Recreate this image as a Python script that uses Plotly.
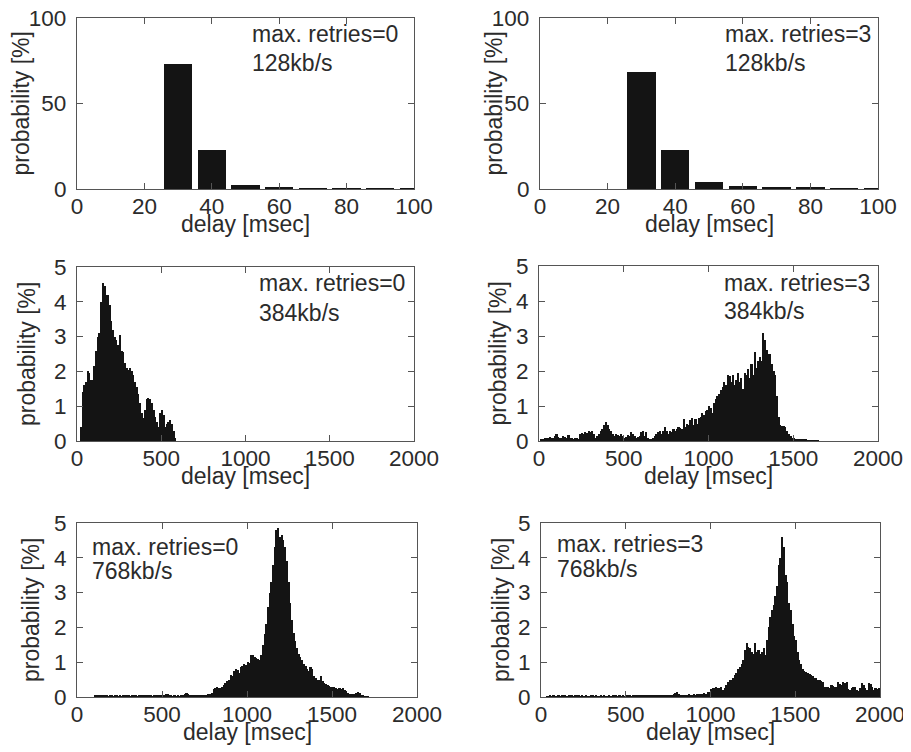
import plotly.graph_objects as go

W, H = 911, 752
OFF = 8  # the page body margin moves the figure 8px right and down

# ---- data (probability in %) ----
# 128 kb/s: bars every 10 msec
bar_delay_128 = [30, 40, 50, 60, 70, 80, 90, 100]
prob_128_r0 = [73.2, 22.8, 2.3, 1.3, 0.4, 0.3, 0.3, 0.2]
prob_128_r3 = [68.4, 23.0, 4.2, 1.9, 1.0, 0.6, 0.5, 0.3]

# 384 / 768 kb/s: 10 msec bins, first bin starts at 0 msec
BIN = 10
prob_384_r0 = [0, 0, 0.4, 1.4, 1.6, 1.7, 2.0, 1.95, 1.75, 1.75,
               2.15, 2.6, 3.0, 3.1, 4.0, 4.55, 4.45, 4.2, 4.2, 3.9,
               3.45, 3.2, 3.0, 2.9, 2.75, 3.05, 2.6, 2.55, 2.25, 2.1,
               2.05, 2.1, 2.0, 1.9, 1.7, 1.55, 1.35, 1.1, 0.8, 0.65,
               0.9, 1.2, 1.25, 1.2, 1.1, 0.9, 0.7, 0.55, 0.4, 0.8,
               0.9, 0.75, 0.4, 0.5, 0.55, 0.6, 0.5, 0.3, 0.1]

prob_384_r3 = [0, 0.03, 0.05, 0.08, 0.1, 0.08, 0.12, 0.1, 0.08, 0.15,
               0.2, 0.12, 0.1, 0.08, 0.15, 0.12, 0.1, 0.18, 0.1, 0.08,
               0.06, 0.1, 0.08, 0.05, 0.2, 0.22, 0.2, 0.25, 0.22, 0.3,
               0.25, 0.3, 0.2, 0.1, 0.15, 0.2, 0.3, 0.35, 0.45, 0.55,
               0.45, 0.35, 0.3, 0.2, 0.15, 0.2, 0.18, 0.15, 0.2, 0.15,
               0.1, 0.12, 0.18, 0.15, 0.25, 0.2, 0.15, 0.1, 0.12, 0.15,
               0.25, 0.3, 0.15, 0.25, 0.1, 0.05, 0.06, 0.1, 0.15, 0.2,
               0.25, 0.3, 0.2, 0.3, 0.4, 0.3, 0.2, 0.3, 0.25, 0.35,
               0.3, 0.35, 0.4, 0.38, 0.35, 0.62, 0.4, 0.5, 0.45, 0.6,
               0.65, 0.45, 0.62, 0.5, 0.65, 0.7, 0.8, 0.75, 0.85, 0.9,
               1.0, 0.95, 0.8, 1.1, 1.2, 1.3, 1.35, 1.45, 1.55, 1.7,
               1.6, 1.9, 1.85, 1.7, 1.9, 1.6, 1.75, 1.95, 1.7, 1.8,
               1.5, 1.95, 1.9, 2.05, 1.8, 2.2, 1.9, 2.55, 2.1, 2.3,
               2.4, 2.3, 3.1, 2.9, 2.6, 2.5, 2.5, 2.2, 2.0, 1.9,
               1.3, 0.7, 0.45, 0.42, 0.42, 0.4, 0.3, 0.2, 0.15, 0.1,
               0.08, 0.05, 0.05, 0.04, 0.03, 0.03, 0.03, 0.03, 0.02, 0.02,
               0.02, 0.02, 0.02, 0.02, 0.02]

prob_768_r0 = [0, 0, 0, 0, 0, 0, 0, 0, 0, 0,
               0.03, 0.05, 0.04, 0.06, 0.05, 0.04, 0.05, 0.03, 0.02, 0.03,
               0.03, 0.02, 0.03, 0.04, 0.02, 0.03, 0.02, 0.03, 0.05, 0.04,
               0.03, 0.02, 0.03, 0.04, 0.03, 0.02, 0.03, 0.04, 0.05, 0.03,
               0.04, 0.05, 0.03, 0.04, 0.02, 0.03, 0.04, 0.05, 0.03, 0.04,
               0.06, 0.05, 0.08, 0.1, 0.05, 0.03, 0.02, 0.03, 0.02, 0.03,
               0.02, 0.03, 0.05, 0.08, 0.12, 0.1, 0.06, 0.05, 0.03, 0.04,
               0.03, 0.05, 0.04, 0.03, 0.04, 0.05, 0.06, 0.08, 0.1, 0.12,
               0.22, 0.27, 0.3, 0.26, 0.25, 0.3, 0.35, 0.4, 0.45, 0.5,
               0.62, 0.6, 0.75, 0.8, 0.78, 0.7, 0.85, 0.9, 0.95, 0.92,
               1.0, 0.98, 1.2, 1.22, 1.15, 1.12, 1.1, 1.05, 1.2, 1.5,
               1.8, 2.1, 2.6, 3.0, 3.3, 3.8, 4.3, 4.8, 4.85, 4.6,
               4.65, 4.5, 4.3, 3.9, 3.3, 2.7, 2.2, 1.85, 1.6, 1.4,
               1.25, 1.15, 1.05, 0.95, 0.9, 0.8, 0.75, 0.85, 0.8, 0.6,
               0.55, 0.5, 0.48, 0.6, 0.45, 0.4, 0.38, 0.35, 0.32, 0.3,
               0.28, 0.3, 0.25, 0.22, 0.26, 0.24, 0.25, 0.2, 0.18, 0.12,
               0.1, 0.08, 0.08, 0.1, 0.12, 0.15, 0.12, 0.05, 0.04, 0.02,
               0.02, 0.02]

prob_768_r3 = [0, 0, 0, 0.02, 0.02, 0.03, 0.02, 0.03, 0.02, 0.02,
               0.03, 0.02, 0.03, 0.04, 0.03, 0.02, 0.03, 0.04, 0.03, 0.02,
               0.03, 0.04, 0.03, 0.02, 0.03, 0.02, 0.03, 0.02, 0.02, 0.03,
               0.04, 0.02, 0.03, 0.02, 0.02, 0.03, 0.02, 0.03, 0.02, 0.02,
               0.03, 0.02, 0.03, 0.04, 0.03, 0.02, 0.03, 0.02, 0.03, 0.02,
               0.03, 0.04, 0.03, 0.02, 0.03, 0.04, 0.03, 0.05, 0.04, 0.03,
               0.04, 0.05, 0.04, 0.06, 0.05, 0.04, 0.06, 0.05, 0.04, 0.05,
               0.04, 0.03, 0.05, 0.06, 0.05, 0.04, 0.06, 0.05, 0.08, 0.12,
               0.15, 0.1, 0.06, 0.05, 0.06, 0.05, 0.07, 0.08, 0.06, 0.07,
               0.08, 0.06, 0.08, 0.1, 0.09, 0.1, 0.12, 0.1, 0.14, 0.15,
               0.22, 0.25, 0.27, 0.28, 0.27, 0.25, 0.28, 0.2, 0.25, 0.35,
               0.42, 0.48, 0.5, 0.55, 0.62, 0.7, 0.8, 0.85, 0.95, 1.05,
               1.35, 1.55, 1.45, 1.4, 1.3, 1.25, 1.55, 1.3, 1.35, 1.25,
               1.28, 1.4, 1.2, 1.65, 2.0, 2.3, 2.5, 2.65, 2.9, 3.2,
               3.8, 4.0, 4.6, 4.3, 3.5, 3.3, 2.7, 2.5, 2.1, 1.75,
               1.65, 1.3, 1.05, 0.95, 0.8, 0.75, 0.72, 0.68, 0.65, 0.62,
               0.6, 0.55, 0.55, 0.5, 0.48, 0.45, 0.42, 0.3, 0.28, 0.3,
               0.25, 0.35, 0.33, 0.3, 0.28, 0.42, 0.38, 0.35, 0.42, 0.4,
               0.42, 0.22, 0.2, 0.25, 0.28, 0.3, 0.2, 0.18, 0.25, 0.4,
               0.35, 0.25, 0.2, 0.4, 0.38, 0.3, 0.2, 0.25, 0.22, 0.25]

labels = [("max. retries=0", "128kb/s"), ("max. retries=3", "128kb/s"),
          ("max. retries=0", "384kb/s"), ("max. retries=3", "384kb/s"),
          ("max. retries=0", "768kb/s"), ("max. retries=3", "768kb/s")]

# ---- layout geometry (screen pixels of the 911x752 window) ----
boxes = [(77, 414, 18, 189), (540, 878, 18, 189),
         (77, 414, 267, 441), (539, 878, 266, 441),
         (77, 417, 523, 697), (541, 880, 523, 697)]
label_pos = [(250, 34, 63), (723, 34, 63),
             (257, 283, 313), (722, 283, 311),
             (90, 547, 571), (555, 544, 569)]
ytitle_x = [21, 494, 27, 497, 31, 501]

FONT = "Arial, Liberation Sans, sans-serif"
FS = 23
TXT = "#2b2b2b"
BARC = "#141414"


def px(x):
    return (x - OFF) / W


def py(y):
    return 1 - (y - OFF) / H


def bins(vals):
    return [BIN * i + BIN / 2 for i in range(len(vals))]


series = [(bar_delay_128, prob_128_r0, 8.4), (bar_delay_128, prob_128_r3, 8.4),
          (bins(prob_384_r0), prob_384_r0, BIN), (bins(prob_384_r3), prob_384_r3, BIN),
          (bins(prob_768_r0), prob_768_r0, BIN), (bins(prob_768_r3), prob_768_r3, BIN)]

fig = go.Figure()
layout = dict(template="none", width=W, height=H,
              margin=dict(l=0, r=0, t=0, b=0, pad=0, autoexpand=False),
              plot_bgcolor="white", paper_bgcolor="white", showlegend=False,
              font=dict(family=FONT, size=FS, color=TXT), bargap=0)
annotations = []

for k, ((xs, ys, wd), (x0, x1, y0, y1)) in enumerate(zip(series, boxes)):
    n = "" if k == 0 else str(k + 1)
    top = k < 2
    fig.add_trace(go.Bar(x=xs, y=ys, width=wd, marker=dict(color=BARC, line=dict(width=0)),
                         xaxis="x" + n, yaxis="y" + n))
    axis_common = dict(showline=True, mirror="ticks", linecolor="#555", linewidth=1.2,
                       ticks="inside", ticklen=6, tickcolor="#555", showgrid=False,
                       zeroline=False, automargin=False, ticklabeloverflow="allow",
                       tickfont=dict(family=FONT, size=22.5, color=TXT))
    layout["xaxis" + n] = dict(axis_common, domain=[px(x0), px(x1)], anchor="y" + n,
                               range=[0, 100] if top else [0, 2000],
                               dtick=20 if top else 500, tick0=0, ticklabelstandoff=-3)
    layout["yaxis" + n] = dict(axis_common, domain=[py(y1), py(y0)], anchor="x" + n,
                               range=[0, 100] if top else [0, 5],
                               dtick=50 if top else 1, tick0=0, ticklabelstandoff=5)
    # axis titles
    annotations.append(dict(text="delay [msec]", xref="paper", yref="paper",
                            x=px((x0 + x1) / 2), y=py(y1 + 35), xanchor="center",
                            yanchor="middle", showarrow=False))
    annotations.append(dict(text="probability [%]", xref="paper", yref="paper",
                            x=px(ytitle_x[k]), y=py((y0 + y1) / 2), textangle=-90,
                            xanchor="center", yanchor="middle", showarrow=False))
    lx, ly1, ly2 = label_pos[k]
    for txt, yy in zip(labels[k], (ly1, ly2)):
        annotations.append(dict(text=txt, xref="paper", yref="paper", x=px(lx), y=py(yy),
                                xanchor="left", yanchor="middle", showarrow=False))

layout["annotations"] = annotations
fig.update_layout(**layout)
fig.write_html("out.html")
